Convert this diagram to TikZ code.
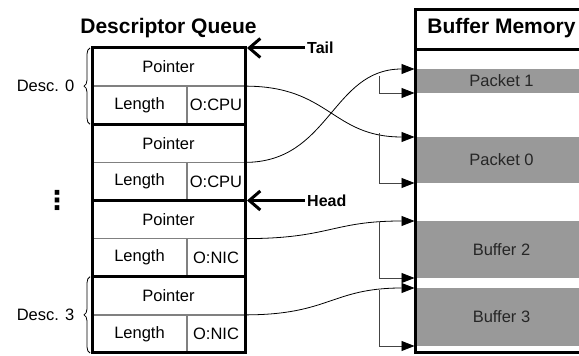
\documentclass[tikz,border=0pt]{standalone}
\usepackage{fontspec}
\setmainfont{Liberation Sans}
\newfontfamily\dotsfont{DejaVu Sans}
\usetikzlibrary{positioning,arrows.meta,decorations.pathreplacing}

\definecolor{cellgray}{HTML}{808080}
\definecolor{memgray}{HTML}{999999}
\definecolor{linkgray}{HTML}{444444}

\begin{document}
\begin{tikzpicture}[
	x=1pt, y=1pt,
	cell/.style={draw=cellgray, line width=1.5pt, inner sep=0pt, outer sep=0pt,
		minimum height=38.125pt, font=\fontsize{16.5}{19}\selectfont},
	ptrcell/.style={cell, minimum width=153pt},
	lencell/.style={cell, minimum width=95pt},
	owncell/.style={cell, minimum width=58pt},
	desc/.style={line width=3pt},
	title/.style={font=\fontsize{21}{24}\selectfont\bfseries},
	marker/.style={font=\fontsize{16}{19}\selectfont\bfseries, inner sep=2pt},
	pile/.style={line width=3pt, -{Straight Barb[length=11pt,width=19pt]}, shorten >=2pt},
	region/.style={fill=memgray, minimum width=170pt, anchor=west, inner sep=0pt,
		outer sep=0pt, text=black!85, font=\fontsize{16.5}{19}\selectfont},
	link/.style={line width=0.8pt, -{Triangle[length=13pt,width=10pt,black]}, shorten >=2pt},
	bracket/.style={link, linkgray},
	desc brace/.style={decorate, decoration={brace, amplitude=6pt}, line width=0.8pt},
	sidetext/.style={font=\fontsize{16.5}{19}\selectfont}
	]
	\useasboundingbox (0,0) rectangle (579,356);
	% descriptor queue
	\node[title] (qtitle) at (168.5,328) {Descriptor Queue};
	\foreach \i/\own in {0/CPU,1/CPU,2/NIC,3/NIC}{
		\node[ptrcell] (ptr\i) at (168.5,288.94-76.25*\i) {Pointer};
		\node[lencell, anchor=north west] (len\i) at (ptr\i.south west) {Length};
		\node[owncell, anchor=north east] (own\i) at (ptr\i.south east) {O:\own};
	}
	\foreach \i in {0,...,3}
		\draw[desc] (ptr\i.north west) rectangle (own\i.south east);
	% braces and dots
	\draw[desc brace] ([xshift=-2pt]len0.south west) -- ([xshift=-2pt]ptr0.north west)
		node[midway, left=12pt, sidetext] (d0) {Desc. 0};
	\draw[desc brace] ([xshift=-2pt]len3.south west) -- ([xshift=-2pt]ptr3.north west)
		node[midway, left=12pt, sidetext] (d3) {Desc. 3};
	\node[font=\dotsfont\fontsize{26}{28}\selectfont\bfseries] (dots) at (57,156) {⋮};
	% tail and head
	\node[marker, right=60pt of ptr0.north east] (tail) {Tail};
	\draw[pile] (tail.west) -- (ptr0.north east);
	\node[marker, right=60pt of ptr2.north east] (head) {Head};
	\draw[pile] (head.west) -- (ptr2.north east);
	% buffer memory
	\draw[desc] (415,3) rectangle (600,346);
	\draw[desc] (415,306) -- (600,306);
	\node[title] (mtitle) at (501.5,328) {Buffer Memory};
	\node[region, minimum height=24pt] (pkt1) at (416.5,275) {Packet 1};
	\node[region, minimum height=46pt] (pkt0) at (416.5,196) {Packet 0};
	\node[region, minimum height=57pt] (buf2) at (416.5,106.5) {Buffer 2};
	\node[region, minimum height=58pt] (buf3) at (416.5,39) {Buffer 3};
	% pointers
	\draw[link] (ptr0.south east) .. controls +(85,0) and +(-85,0) .. (pkt0.north west)
		coordinate[pos=0.83] (c0);
	\draw[link] (ptr1.south east) .. controls +(85,0) and +(-85,0) .. (pkt1.north west)
		coordinate[pos=0.83] (c1);
	\draw[link] (ptr2.south east) .. controls +(85,0) and +(-85,0) .. (buf2.north west)
		coordinate[pos=0.83] (c2);
	\draw[link] (ptr3.south east) .. controls +(85,0) and +(-85,0) .. (buf3.north west)
		coordinate[pos=0.83] (c3);
	% lengths
	\draw[bracket] (c0) |- (pkt0.south west);
	\draw[bracket] (c1) |- (pkt1.south west);
	\draw[bracket] (c2) |- (buf2.south west);
	\draw[bracket] (c3) |- (buf3.south west);
\end{tikzpicture}
\end{document}
